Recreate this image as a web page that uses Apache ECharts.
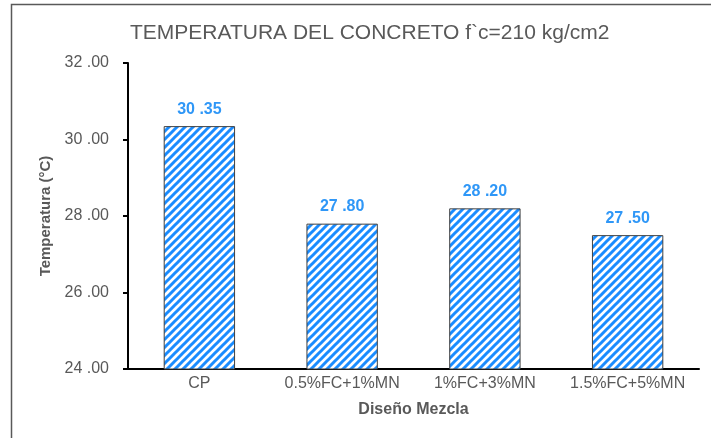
<!DOCTYPE html>
<html>
<head>
<meta charset="utf-8">
<script src="https://cdn.jsdelivr.net/npm/echarts@6/dist/echarts.min.js"></script>
<style>
html,body{margin:0;padding:0;background:#fff;}
#c{width:711px;height:438px;}
</style>
</head>
<body>
<div id="c"></div>
<script>
var titleText = 'TEMPERATURA DEL CONCRETO f`c=210 kg/cm2';
var categories = ['CP', '0.5%FC+1%MN', '1%FC+3%MN', '1.5%FC+5%MN'];
var temperatures = [30.35, 27.80, 28.20, 27.50];
var yMin = 24, yMax = 32, yStep = 2;
var xAxisTitle = 'Diseño Mezcla';
var yAxisTitle = 'Temperatura (°C)';

function fmt(v){
  var s = Number(v).toFixed(2).split('.');
  return s[0] + ' .' + s[1];
}

// stripe pattern tile
var tile = document.createElement('canvas');
var S = 8;
tile.width = S; tile.height = S;
var ctx = tile.getContext('2d');
ctx.fillStyle = '#ffffff';
ctx.fillRect(0,0,S,S);
ctx.strokeStyle = '#1a8cff';
ctx.lineWidth = 3;
ctx.beginPath();
ctx.moveTo(-1, S+1); ctx.lineTo(S+1, -1);
ctx.moveTo(-S/2-1, S/2+1); ctx.lineTo(S/2+1, -S/2-1);
ctx.moveTo(S/2-1, S+S/2+1); ctx.lineTo(S+S/2+1, S/2-1);
ctx.stroke();

var chart = echarts.init(document.getElementById('c'), null, {renderer:'canvas'});
chart.setOption({
  backgroundColor: '#ffffff',
  animation: false,
  title: {
    text: titleText,
    left: 125,
    top: 18,
    textStyle: {fontFamily: 'Liberation Sans, Arial', fontSize: 21, fontWeight: 'normal', color: '#595959'}
  },
  graphic: [{
    type: 'rect',
    shape: {x: 11.5, y: 4.5, width: 740, height: 480},
    style: {fill: 'none', stroke: '#595959', lineWidth: 1.5},
    silent: true
  }],
  grid: {left: 128, right: 12, top: 63, bottom: 69},
  xAxis: {
    type: 'category',
    data: categories,
    name: xAxisTitle,
    nameLocation: 'middle',
    nameGap: 33,
    nameTextStyle: {fontFamily: 'Liberation Sans, Arial', fontSize: 16, fontWeight: 'bold', color: '#595959'},
    axisLine: {lineStyle: {color: '#000000', width: 2}},
    axisTick: {show: false},
    axisLabel: {interval: 0, fontFamily: 'Liberation Sans, Arial', fontSize: 16, color: '#595959', margin: 7}
  },
  yAxis: {
    type: 'value',
    min: yMin, max: yMax, interval: yStep,
    name: yAxisTitle,
    nameLocation: 'middle',
    nameGap: 73,
    nameTextStyle: {fontFamily: 'Liberation Sans, Arial', fontSize: 15, fontWeight: 'bold', color: '#595959'},
    axisLine: {show: true, lineStyle: {color: '#000000', width: 2}},
    axisTick: {show: true, length: 5, lineStyle: {color: '#000000', width: 2}},
    splitLine: {show: false},
    axisLabel: {fontFamily: 'Liberation Sans, Arial', fontSize: 16, color: '#595959', margin: 19, formatter: fmt}
  },
  series: [{
    type: 'bar',
    data: temperatures,
    barWidth: '50%',
    itemStyle: {
      color: {image: tile, repeat: 'repeat'},
      borderColor: '#404040',
      borderWidth: 1
    },
    label: {
      show: true,
      position: 'top',
      distance: 9,
      formatter: function(p){ return fmt(p.value); },
      fontFamily: 'Liberation Sans, Arial',
      fontSize: 16,
      fontWeight: 'bold',
      color: '#2f97f7'
    }
  }]
});
</script>
</body>
</html>
